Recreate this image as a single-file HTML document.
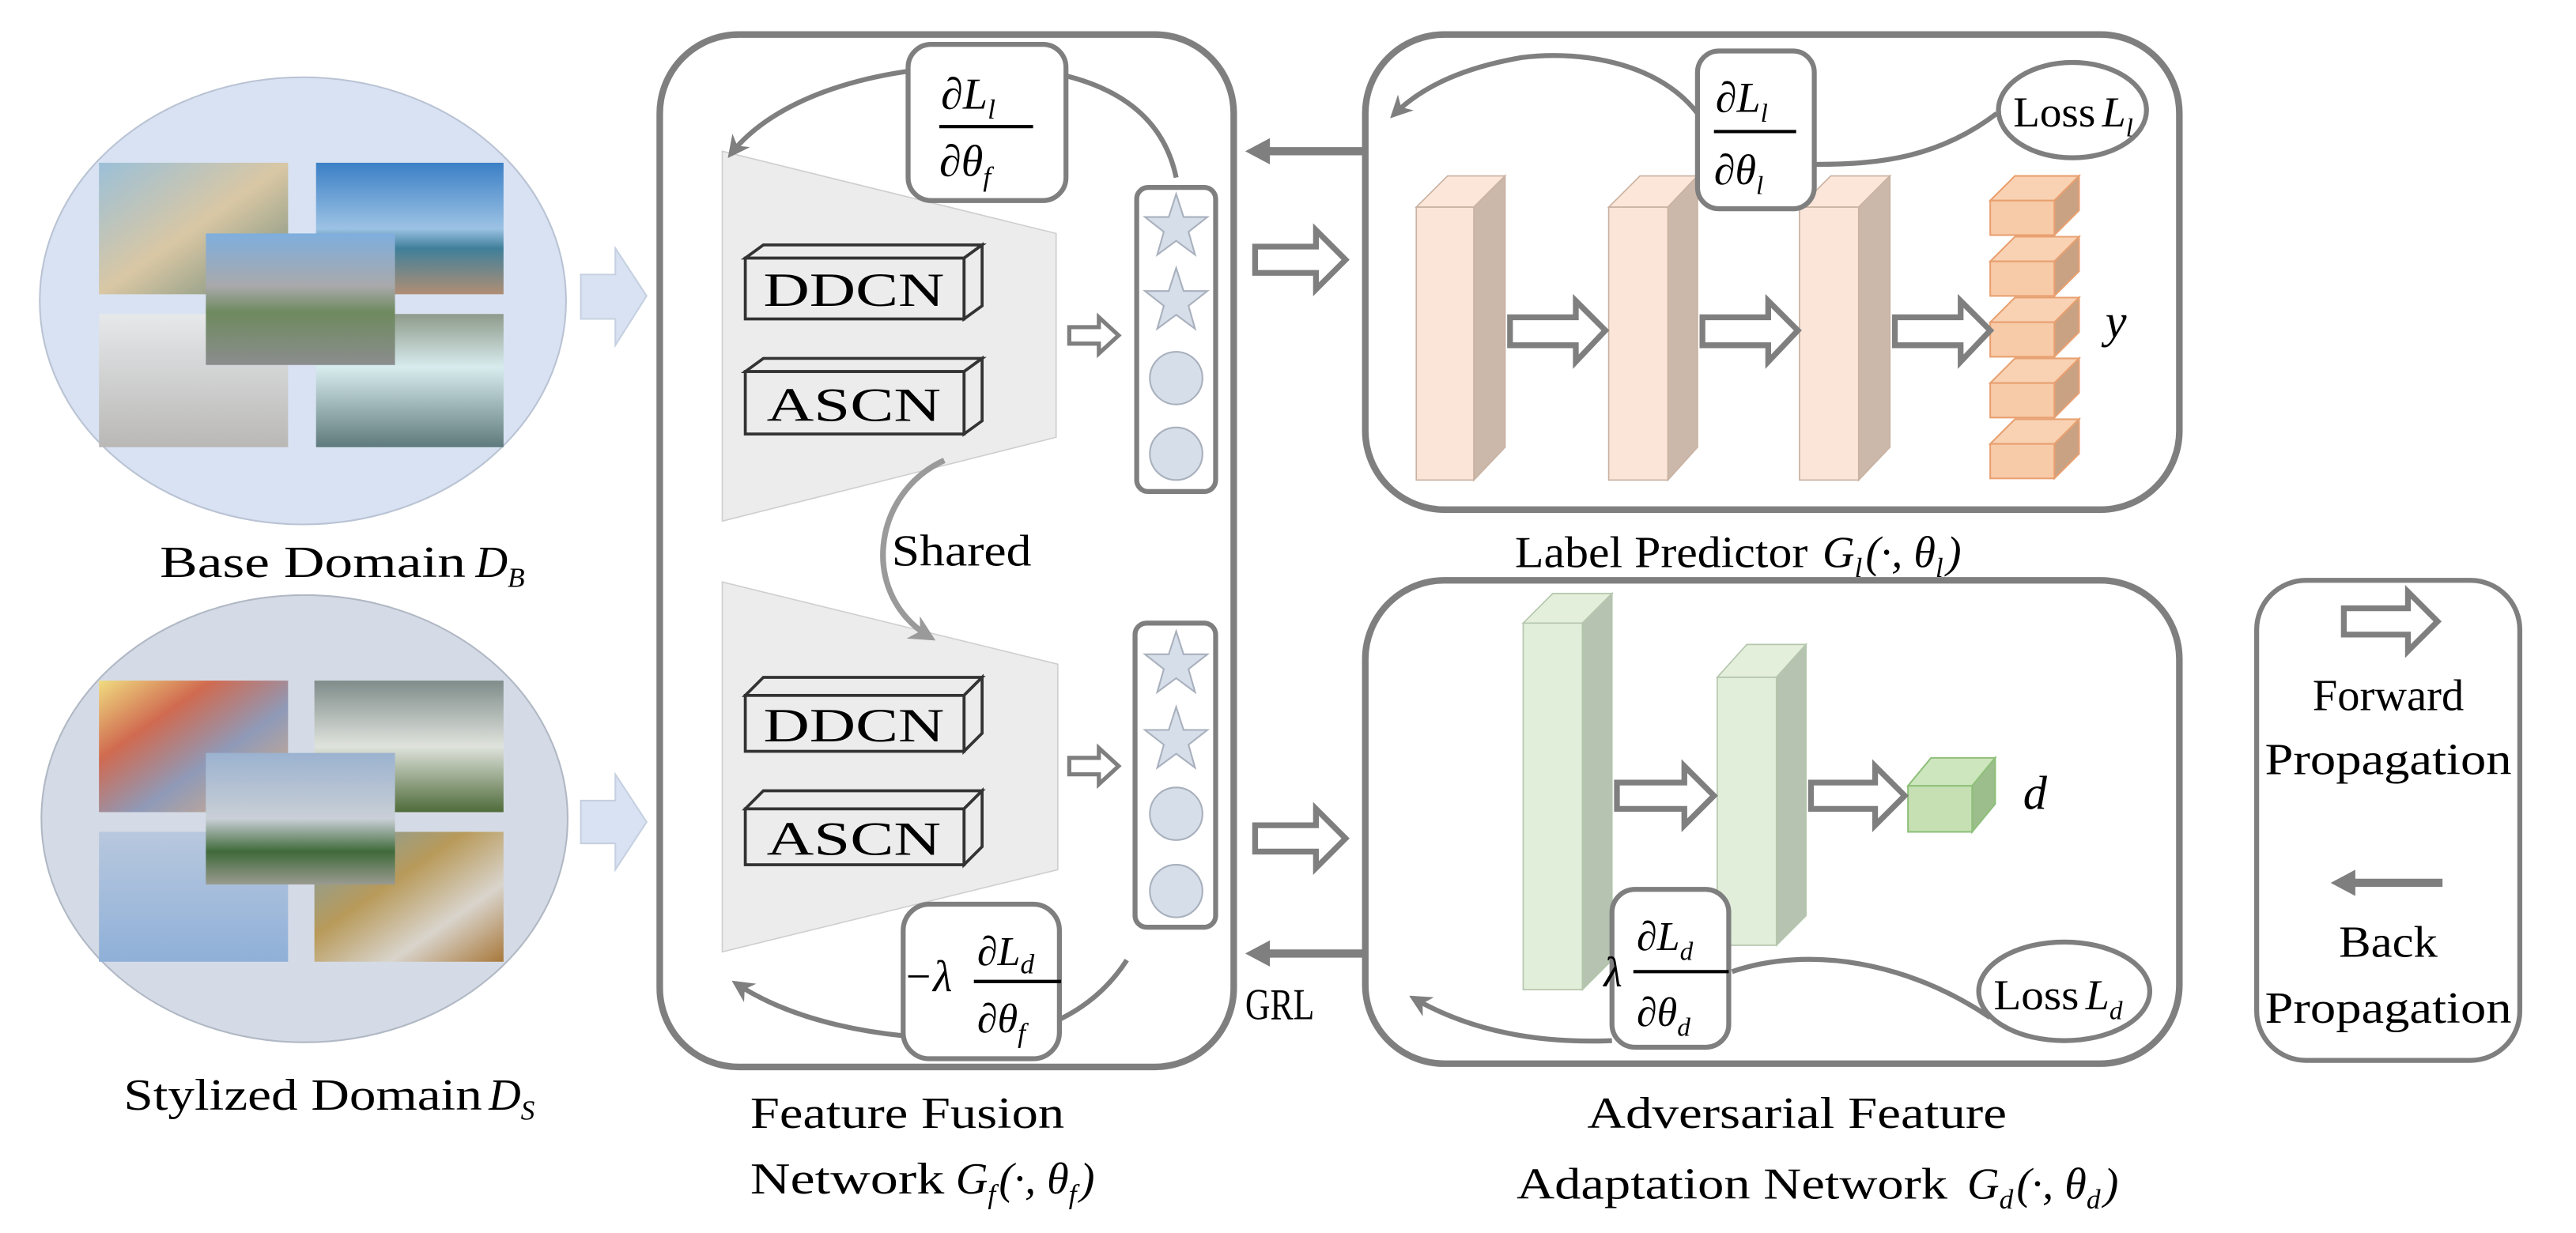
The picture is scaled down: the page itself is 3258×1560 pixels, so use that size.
<!DOCTYPE html>
<html><head><meta charset="utf-8"><style>
html,body{margin:0;padding:0;background:#fff;}
svg{display:block;}
text{font-family:"Liberation Serif","Times New Roman",serif;fill:#000;}
.it{font-style:italic;}
</style></head><body>
<svg width="3258" height="1560" viewBox="0 0 1566 750" xmlns="http://www.w3.org/2000/svg">
<defs>
<marker id="ah" viewBox="0 0 10 10" refX="8" refY="5" markerWidth="4.5" markerHeight="4.5" orient="auto"><path d="M0,0 L10,5 L0,10 L3,5 z" fill="#7f7f7f"/></marker>
<marker id="ah2" viewBox="0 0 10 10" refX="8" refY="5" markerWidth="4.5" markerHeight="4.5" orient="auto"><path d="M0,0 L10,5 L0,10 L3,5 z" fill="#9a9a9a"/></marker>
<linearGradient id="g1" x1="0" y1="0" x2="1" y2="1"><stop offset="0" stop-color="#9bc0d8"/><stop offset=".5" stop-color="#d9c7a4"/><stop offset="1" stop-color="#6f8a7a"/></linearGradient>
<linearGradient id="g2" x1="0" y1="0" x2="0" y2="1"><stop offset="0" stop-color="#3b7fc6"/><stop offset=".5" stop-color="#9cc2e4"/><stop offset=".65" stop-color="#3f7f9a"/><stop offset="1" stop-color="#b08e74"/></linearGradient>
<linearGradient id="g3" x1="0" y1="0" x2="0" y2="1"><stop offset="0" stop-color="#7eaede"/><stop offset=".4" stop-color="#a9a9ab"/><stop offset=".6" stop-color="#6e8a5e"/><stop offset="1" stop-color="#8b8d8e"/></linearGradient>
<linearGradient id="g4" x1="0" y1="0" x2="0" y2="1"><stop offset="0" stop-color="#e6e8ea"/><stop offset="1" stop-color="#b9b8b6"/></linearGradient>
<linearGradient id="g5" x1="0" y1="0" x2="0" y2="1"><stop offset="0" stop-color="#8e9a8a"/><stop offset=".4" stop-color="#d8ecee"/><stop offset="1" stop-color="#5f7a7c"/></linearGradient>
<linearGradient id="s1" x1="0" y1="0" x2="1" y2="1"><stop offset="0" stop-color="#f0dc80"/><stop offset=".3" stop-color="#d06a50"/><stop offset=".6" stop-color="#8f9ab8"/><stop offset="1" stop-color="#e2b080"/></linearGradient>
<linearGradient id="s2" x1="0" y1="0" x2="0" y2="1"><stop offset="0" stop-color="#7f8c8a"/><stop offset=".5" stop-color="#dfe3dc"/><stop offset="1" stop-color="#4f6b3a"/></linearGradient>
<linearGradient id="s3" x1="0" y1="0" x2="0" y2="1"><stop offset="0" stop-color="#9bb2cf"/><stop offset=".5" stop-color="#c9cfd6"/><stop offset=".75" stop-color="#3f6a3a"/><stop offset="1" stop-color="#9a9a90"/></linearGradient>
<linearGradient id="s4" x1="0" y1="0" x2="0" y2="1"><stop offset="0" stop-color="#b8c8de"/><stop offset="1" stop-color="#8fb0d8"/></linearGradient>
<linearGradient id="s5" x1="0" y1="0" x2="1" y2="1"><stop offset="0" stop-color="#7aa0b0"/><stop offset=".4" stop-color="#b89a5a"/><stop offset=".7" stop-color="#d9d4cc"/><stop offset="1" stop-color="#a8783a"/></linearGradient>
</defs>

<!-- Domains -->
<ellipse cx="184" cy="183" rx="160" ry="136" fill="#d8e2f2" stroke="#b9c3d3" stroke-width="1"/>
<rect x="60" y="99" width="115" height="80" fill="url(#g1)"/>
<rect x="192" y="99" width="114" height="80" fill="url(#g2)"/>
<rect x="60" y="191" width="115" height="81" fill="url(#g4)"/>
<rect x="192" y="191" width="114" height="81" fill="url(#g5)"/>
<rect x="125" y="142" width="115" height="80" fill="url(#g3)"/>
<text x="97" y="351" font-size="27" textLength="186" lengthAdjust="spacingAndGlyphs">Base Domain</text>
<text x="289" y="351" font-size="27" class="it">D<tspan font-size="17" dy="6">B</tspan></text>

<ellipse cx="185" cy="498" rx="160" ry="136" fill="#d5dbe6" stroke="#b0b8c4" stroke-width="1"/>
<rect x="60" y="414" width="115" height="80" fill="url(#s1)"/>
<rect x="191" y="414" width="115" height="80" fill="url(#s2)"/>
<rect x="60" y="506" width="115" height="79" fill="url(#s4)"/>
<rect x="191" y="506" width="115" height="79" fill="url(#s5)"/>
<rect x="125" y="458" width="115" height="80" fill="url(#s3)"/>
<text x="75" y="675" font-size="27" textLength="218" lengthAdjust="spacingAndGlyphs">Stylized  Domain</text>
<text x="297" y="675" font-size="27" class="it">D<tspan font-size="17" dy="6">S</tspan></text>

<!-- blue arrows -->
<polygon points="353,167 374,167 374,151 393,180 374,210 374,194 353,194" fill="#d8e2f2" stroke="#c5d0e0" stroke-width="1"/>
<polygon points="353,487 374,487 374,471 393,500 374,529 374,513 353,513" fill="#d8e2f2" stroke="#c5d0e0" stroke-width="1"/>

<!-- Feature fusion box -->
<rect x="401" y="21" width="349" height="628" rx="48" fill="#fff" stroke="#7f7f7f" stroke-width="4"/>
<polygon points="439,92 642,142 642,266 439,317" fill="#ececec" stroke="#cfcfcf" stroke-width="0.8"/>
<polygon points="439,354 643,404 643,529 439,579" fill="#ececec" stroke="#cfcfcf" stroke-width="0.8"/>

<g stroke="#333" stroke-width="1.8" fill="#ececec">
<polygon points="453,157 464,149 597,149 586,157"/><polygon points="586,157 597,149 597,186 586,194"/><rect x="453" y="157" width="133" height="37"/>
<polygon points="453,226 464,218 597,218 586,226"/><polygon points="586,226 597,218 597,256 586,264"/><rect x="453" y="226" width="133" height="38"/>
<polygon points="453,423 464,412 597,412 586,423"/><polygon points="586,423 597,412 597,446 586,457"/><rect x="453" y="423" width="133" height="34"/>
<polygon points="453,492 464,481 597,481 586,492"/><polygon points="586,492 597,481 597,515 586,526"/><rect x="453" y="492" width="133" height="34"/>
</g>
<text x="519" y="186" font-size="29" text-anchor="middle" textLength="110" lengthAdjust="spacingAndGlyphs">DDCN</text>
<text x="519" y="256" font-size="29" text-anchor="middle" textLength="106" lengthAdjust="spacingAndGlyphs">ASCN</text>
<text x="519" y="451" font-size="29" text-anchor="middle" textLength="110" lengthAdjust="spacingAndGlyphs">DDCN</text>
<text x="519" y="520" font-size="29" text-anchor="middle" textLength="106" lengthAdjust="spacingAndGlyphs">ASCN</text>

<!-- shared arrow -->
<path d="M574,280 C530,300 522,362 566,388" fill="none" stroke="#9a9a9a" stroke-width="3.5" marker-end="url(#ah2)"/>
<text x="542" y="344" font-size="27" textLength="85" lengthAdjust="spacingAndGlyphs">Shared</text>

<!-- small arrows -->
<g fill="#fff" stroke="#7f7f7f" stroke-width="2.5">
<polygon points="650,199 668,199 668,193 680,204 668,215 668,209 650,209"/>
<polygon points="650,461 668,461 668,455 680,466 668,477 668,471 650,471"/>
</g>

<!-- feature columns -->
<g stroke="#7f7f7f" stroke-width="3" fill="#fff">
<rect x="691" y="114" width="48" height="185" rx="7"/>
<rect x="690" y="379" width="49" height="185" rx="7"/>
</g>
<g fill="#d6deea" stroke="#a9b0bd" stroke-width="1">
<g id="st"><polygon points="715,118 719.5,132 734,132 722.5,141 726.5,155 715,146.5 703.5,155 707.5,141 696,132 710.5,132"/></g>
<use href="#st" y="45"/><use href="#st" y="266"/><use href="#st" y="312"/>
<circle cx="715" cy="230" r="16"/><circle cx="715" cy="276" r="16"/>
<circle cx="715" cy="495" r="16"/><circle cx="715" cy="542" r="16"/>
</g>

<!-- top fraction box fusion -->
<path d="M715,108 C705,60 660,42 600,40 C530,40 470,60 444,94" fill="none" stroke="#7f7f7f" stroke-width="3" marker-end="url(#ah)"/>
<rect x="552" y="27" width="96" height="95" rx="14" fill="#fff" stroke="#7f7f7f" stroke-width="3"/>
<text x="572" y="66" font-size="27" class="it">∂L<tspan font-size="17" dy="6">l</tspan></text>
<line x1="571" y1="77" x2="628" y2="77" stroke="#000" stroke-width="2"/>
<text x="571" y="107" font-size="27" class="it">∂θ<tspan font-size="17" dy="6">f</tspan></text>

<!-- bottom fraction fusion -->
<path d="M685,584 C665,615 630,632 590,632 C530,632 480,620 447,598" fill="none" stroke="#7f7f7f" stroke-width="3" marker-end="url(#ah)"/>
<rect x="549" y="550" width="95" height="94" rx="16" fill="#fff" stroke="#7f7f7f" stroke-width="3"/>
<text x="549" y="603" font-size="27" class="it">−λ</text>
<text x="594" y="587" font-size="25" class="it">∂L<tspan font-size="17" dy="5">d</tspan></text>
<line x1="592" y1="597" x2="645" y2="597" stroke="#000" stroke-width="2"/>
<text x="594" y="628" font-size="25" class="it">∂θ<tspan font-size="17" dy="6">f</tspan></text>

<text x="456" y="686" font-size="27" textLength="191" lengthAdjust="spacingAndGlyphs">Feature Fusion</text>
<text x="456" y="726" font-size="27" textLength="118" lengthAdjust="spacingAndGlyphs">Network</text>
<text x="581" y="726" font-size="27" class="it">G<tspan font-size="17" dy="6">f</tspan><tspan dy="-6" dx="2">(·, θ</tspan><tspan font-size="17" dy="6">f</tspan><tspan dy="-6" dx="2">)</tspan></text>

<!-- between arrows -->
<line x1="830" y1="92" x2="768" y2="92" stroke="#7f7f7f" stroke-width="5"/>
<polygon points="757,92 772,84 772,100" fill="#7f7f7f"/>
<line x1="830" y1="580" x2="768" y2="580" stroke="#7f7f7f" stroke-width="5"/>
<polygon points="757,580 772,572 772,588" fill="#7f7f7f"/>
<g fill="#fff" stroke="#7f7f7f" stroke-width="3.5">
<polygon points="763,150 800,150 800,140 818,158 800,176 800,166 763,166"/>
<polygon points="763,502 800,502 800,492 818,510 800,528 800,518 763,518"/>
</g>
<text x="757" y="620" font-size="27" textLength="42" lengthAdjust="spacingAndGlyphs">GRL</text>

<!-- Label predictor -->
<rect x="830" y="21" width="495" height="289" rx="48" fill="#fff" stroke="#7f7f7f" stroke-width="4"/>
<g stroke="#c9b2a2" stroke-width="0.8">
<polygon points="861,126 880,107 915,107 896,126" fill="#fbe6d9"/><polygon points="896,126 915,107 915,272 896,292" fill="#cbb8aa"/><rect x="861" y="126" width="35" height="166" fill="#fae5d8"/>
<polygon points="978,126 997,107 1032,107 1014,126" fill="#fbe6d9"/><polygon points="1014,126 1032,107 1032,272 1014,292" fill="#cbb8aa"/><rect x="978" y="126" width="36" height="166" fill="#fae5d8"/>
<polygon points="1094,126 1113,107 1149,107 1130,126" fill="#fbe6d9"/><polygon points="1130,126 1149,107 1149,272 1130,292" fill="#cbb8aa"/><rect x="1094" y="126" width="36" height="166" fill="#fae5d8"/>
</g>
<g stroke="#e8a070" stroke-width="1">
<g id="cb"><polygon points="1210,122 1225,107 1264,107 1249,122" fill="#f9d2b4"/><polygon points="1249,122 1264,107 1264,128 1249,143" fill="#c9a284"/><rect x="1210" y="122" width="39" height="21" fill="#f8cba8"/></g>
<use href="#cb" y="37"/><use href="#cb" y="74"/><use href="#cb" y="111"/><use href="#cb" y="148"/>
</g>
<g fill="#fff" stroke="#7f7f7f" stroke-width="3.5">
<polygon points="918,193 958,193 958,183 976,201 958,220 958,210 918,210"/>
<polygon points="1035,193 1075,193 1075,183 1093,201 1075,220 1075,210 1035,210"/>
<polygon points="1152,193 1192,193 1192,183 1210,201 1192,220 1192,210 1152,210"/>
</g>
<text x="1280" y="205" font-size="29" class="it">y</text>

<path d="M1214,69 C1180,95 1145,100 1104,100" fill="none" stroke="#7f7f7f" stroke-width="3"/>
<path d="M1032,69 C1010,40 965,30 925,35 C885,42 862,55 847,70" fill="none" stroke="#7f7f7f" stroke-width="3" marker-end="url(#ah)"/>
<ellipse cx="1260" cy="67" rx="45" ry="29" fill="#fff" stroke="#7f7f7f" stroke-width="3"/>
<text x="1224" y="77" font-size="26" textLength="50" lengthAdjust="spacingAndGlyphs">Loss</text><text x="1278" y="77" font-size="26" class="it">L<tspan font-size="16" dy="6">l</tspan></text>
<rect x="1032" y="31" width="71" height="96" rx="13" fill="#fff" stroke="#7f7f7f" stroke-width="3"/>
<text x="1043" y="68" font-size="26" class="it">∂L<tspan font-size="16" dy="6">l</tspan></text>
<line x1="1042" y1="80" x2="1092" y2="80" stroke="#000" stroke-width="2"/>
<text x="1042" y="112" font-size="26" class="it">∂θ<tspan font-size="16" dy="6">l</tspan></text>

<text x="921" y="345" font-size="27" textLength="178" lengthAdjust="spacingAndGlyphs">Label Predictor</text>
<text x="1108" y="345" font-size="27" class="it">G<tspan font-size="17" dy="6">l</tspan><tspan dy="-6" dx="2">(·, θ</tspan><tspan font-size="17" dy="6">l</tspan><tspan dy="-6" dx="2">)</tspan></text>

<!-- Adversarial -->
<rect x="830" y="353" width="495" height="294" rx="48" fill="#fff" stroke="#7f7f7f" stroke-width="4"/>
<g stroke="#b5c6ad" stroke-width="0.8">
<polygon points="926,379 944,361 980,361 962,379" fill="#e3efdb"/><polygon points="962,379 980,361 980,584 962,602" fill="#b5c3b0"/><rect x="926" y="379" width="36" height="223" fill="#e1eed9"/>
<polygon points="1044,412 1062,392 1098,392 1080,412" fill="#e3efdb"/><polygon points="1080,412 1098,392 1098,557 1080,575" fill="#b5c3b0"/><rect x="1044" y="412" width="36" height="163" fill="#e1eed9"/>
</g>
<g stroke="#8fc07a" stroke-width="1">
<polygon points="1160,478 1174,461 1213,461 1199,478" fill="#cde6be"/><polygon points="1199,478 1213,461 1213,489 1199,506" fill="#9cbd8c"/><rect x="1160" y="478" width="39" height="28" fill="#c6e0b4"/>
</g>
<g fill="#fff" stroke="#7f7f7f" stroke-width="3.5">
<polygon points="983,476 1024,476 1024,466 1042,484 1024,502 1024,492 983,492"/>
<polygon points="1101,476 1140,476 1140,466 1158,484 1140,502 1140,492 1101,492"/>
</g>
<text x="1230" y="492" font-size="29" class="it">d</text>

<path d="M1210,619 C1160,585 1100,575 1053,591" fill="none" stroke="#7f7f7f" stroke-width="3"/>
<path d="M980,633 C930,635 890,625 859,607" fill="none" stroke="#7f7f7f" stroke-width="3" marker-end="url(#ah)"/>
<ellipse cx="1255" cy="603" rx="52" ry="30" fill="#fff" stroke="#7f7f7f" stroke-width="3"/>
<text x="1212" y="614" font-size="26" textLength="52" lengthAdjust="spacingAndGlyphs">Loss</text><text x="1268" y="614" font-size="26" class="it">L<tspan font-size="16" dy="6">d</tspan></text>
<rect x="980" y="541" width="71" height="96" rx="14" fill="#fff" stroke="#7f7f7f" stroke-width="3"/>
<text x="975" y="600" font-size="26" class="it">λ</text>
<text x="995" y="578" font-size="25" class="it">∂L<tspan font-size="16" dy="6">d</tspan></text>
<line x1="993" y1="591" x2="1051" y2="591" stroke="#000" stroke-width="2"/>
<text x="995" y="624" font-size="25" class="it">∂θ<tspan font-size="16" dy="6">d</tspan></text>

<text x="965" y="686" font-size="27" textLength="255" lengthAdjust="spacingAndGlyphs">Adversarial  Feature</text>
<text x="922" y="729" font-size="27" textLength="262" lengthAdjust="spacingAndGlyphs">Adaptation  Network</text>
<text x="1196" y="729" font-size="27" class="it">G<tspan font-size="17" dy="6">d</tspan><tspan dy="-6" dx="2">(·, θ</tspan><tspan font-size="17" dy="6">d</tspan><tspan dy="-6" dx="2">)</tspan></text>

<!-- Legend -->
<rect x="1372" y="353" width="160" height="292" rx="30" fill="#fff" stroke="#7f7f7f" stroke-width="3"/>
<polygon points="1425,370 1464,370 1464,360 1482,378 1464,396 1464,386 1425,386" fill="#fff" stroke="#7f7f7f" stroke-width="3.5"/>
<text x="1452" y="432" font-size="27" text-anchor="middle" textLength="92" lengthAdjust="spacingAndGlyphs">Forward</text>
<text x="1452" y="471" font-size="27" text-anchor="middle" textLength="150" lengthAdjust="spacingAndGlyphs">Propagation</text>
<line x1="1485" y1="537" x2="1430" y2="537" stroke="#7f7f7f" stroke-width="5"/>
<polygon points="1417,537 1432,529 1432,545" fill="#7f7f7f"/>
<text x="1452" y="582" font-size="27" text-anchor="middle" textLength="60" lengthAdjust="spacingAndGlyphs">Back</text>
<text x="1452" y="622" font-size="27" text-anchor="middle" textLength="150" lengthAdjust="spacingAndGlyphs">Propagation</text>
</svg>
</body></html>
